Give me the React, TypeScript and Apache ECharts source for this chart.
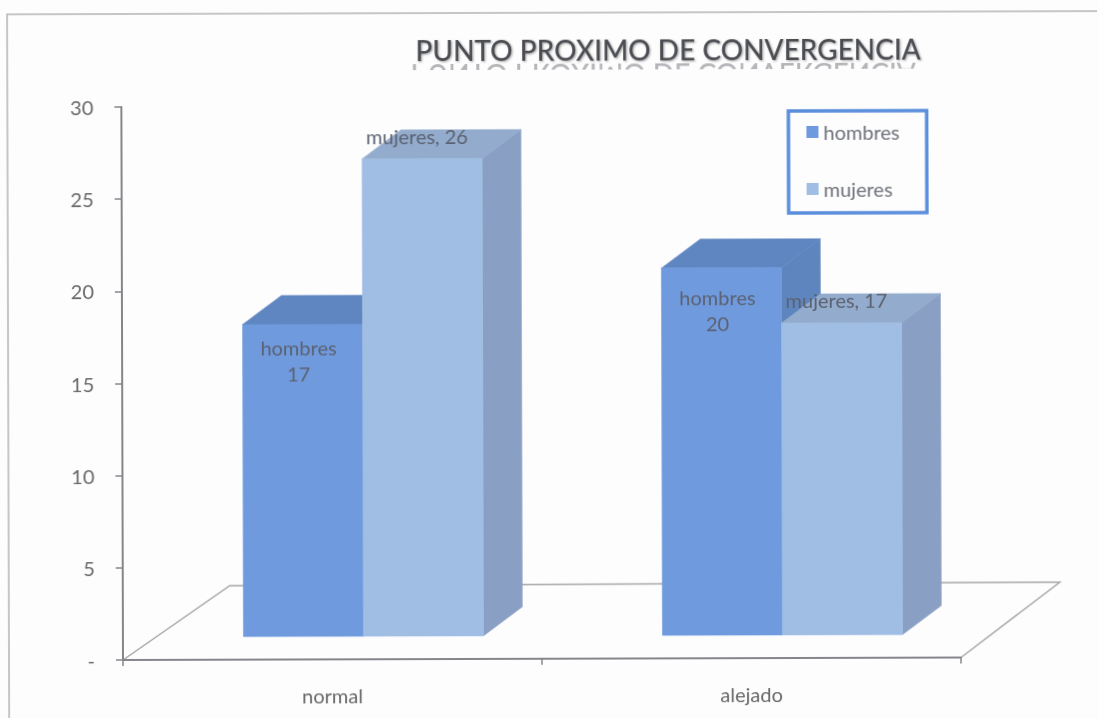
import React, { useEffect, useRef } from "react";
import * as echarts from "echarts";

const chartTitle = "PUNTO PROXIMO DE CONVERGENCIA";
const categories = ["normal", "alejado"];
const hombresValues = [17, 20];
const mujeresValues = [26, 17];
const yMin = 0;
const yMax = 30;
const yInterval = 5;

const BG = "#fdfdfe";
const FONT = "Lato, 'Open Sans', sans-serif";
const TEXT = "#686868";
const BAR_W = 120;
const CENTER_SHIFT = 31;
const DX = 39;
const DY = 29;
const LIFT = 23; // the floor of the 3D box sits above the axis line
const HEIGHT_K = 0.996;

function bar3d(
  seriesKey: "h" | "m",
  colors: { front: string; top: string; side: string },
) {
  return (params: any, api: any) => {
    const idx = api.value(0);
    const val = api.value(1);
    const base = api.coord([idx, 0]);
    const top = api.coord([idx, val]);
    const x0 = base[0] + CENTER_SHIFT + (seriesKey === "h" ? -BAR_W : 0);
    const x1 = x0 + BAR_W;
    const yb = base[1] - LIFT;
    const yt = yb - (base[1] - top[1]) * HEIGHT_K;
    const face = (points: number[][], fill: string) => ({
      type: "polygon",
      shape: { points },
      style: { fill, stroke: fill, lineWidth: 0.5 },
    });
    const label =
      seriesKey === "h"
        ? {
            type: "text",
            x: (x0 + x1) / 2 - 4,
            y: yt + (idx === 0 ? 36 : 42),
            z2: 5,
            style: {
              text: "hombres\n" + val,
              fill: "#5b6270",
              font: `20px ${FONT}`,
              lineHeight: 26,
              textAlign: "center",
              textVerticalAlign: "middle",
            },
          }
        : {
            type: "text",
            x: (x0 + x1) / 2 - 5,
            y: yt - 23,
            z2: 5,
            style: {
              text: "mujeres, " + val,
              fill: "#5b6270",
              font: `20px ${FONT}`,
              textAlign: "center",
              textVerticalAlign: "middle",
            },
          };
    return {
      type: "group",
      children: [
        face(
          [
            [x1, yt],
            [x1 + DX, yt - DY],
            [x1 + DX, yb - DY],
            [x1, yb],
          ],
          colors.side,
        ),
        face(
          [
            [x0, yt],
            [x0 + DX, yt - DY],
            [x1 + DX, yt - DY],
            [x1, yt],
          ],
          colors.top,
        ),
        face(
          [
            [x0, yt],
            [x1, yt],
            [x1, yb],
            [x0, yb],
          ],
          colors.front,
        ),
        label,
      ],
    };
  };
}

export default function App() {
  const ref = useRef<HTMLDivElement>(null);
  useEffect(() => {
    const chart = echarts.init(ref.current!, undefined, { renderer: "svg" });
    chart.setOption({
      animation: false,
      backgroundColor: BG,
      title: {
        text: chartTitle,
        left: 665,
        top: 32,
        textAlign: "center",
        textStyle: {
          fontFamily: FONT,
          fontSize: 28,
          fontWeight: 500,
          color: "#4b4d52",
          textShadowColor: "rgba(90,90,90,0.55)",
          textShadowBlur: 2,
          textShadowOffsetX: 1,
          textShadowOffsetY: 1,
        },
      },
      legend: {
        orient: "vertical",
        left: 790,
        top: 113,
        padding: [11, 27, 14, 18],
        itemGap: 37,
        itemWidth: 12,
        itemHeight: 12,
        borderColor: "#5b8edb",
        borderWidth: 3.5,
        data: [
          { name: "hombres", icon: "rect" },
          { name: "mujeres", icon: "rect" },
        ],
        textStyle: { fontFamily: FONT, fontSize: 20, color: "#6d7078" },
      },
      grid: { left: 123, right: 138, top: 107, bottom: 58 },
      xAxis: {
        type: "category",
        data: categories,
        boundaryGap: true,
        axisLine: { lineStyle: { color: "#85868a", width: 2 } },
        axisTick: { show: true, length: 6, lineStyle: { color: "#85868a", width: 1.5 } },
        axisLabel: { margin: 26, fontFamily: FONT, fontSize: 20, color: TEXT },
      },
      yAxis: {
        type: "value",
        min: yMin,
        max: yMax,
        interval: yInterval,
        splitLine: { show: false },
        axisLine: { show: true, lineStyle: { color: "#85868a", width: 2 } },
        axisTick: { show: true, length: 7, lineStyle: { color: "#85868a", width: 1.5 } },
        axisLabel: {
          margin: 28,
          fontFamily: FONT,
          fontSize: 20,
          color: TEXT,
          formatter: (v: number) => (v === 0 ? "-" : String(v)),
        },
      },
      graphic: {
        elements: [
          {
            type: "polyline",
            z: 0,
            shape: { points: [[9, 718], [9, 14], [1099, 14]] },
            style: { stroke: "#b4b4b6", lineWidth: 1.5, fill: "none" },
          },
          {
            type: "polyline",
            z: 0,
            shape: { points: [[123, 660], [230, 586], [1060, 585], [961, 660]] },
            style: { stroke: "#a8a6a8", lineWidth: 1.5, fill: "none" },
          },
          {
            type: "text",
            z: 0,
            x: 665,
            y: 62,
            scaleY: -1,
            style: {
              text: chartTitle,
              font: `500 28px ${FONT}`,
              fill: "rgba(110,110,115,0.5)",
              textAlign: "center",
              textVerticalAlign: "bottom",
            },
          },
          {
            type: "rect",
            z: 1,
            shape: { x: 400, y: 71, width: 540, height: 26 },
            style: { fill: BG },
          },
        ],
      },
      series: [
        {
          name: "hombres",
          type: "custom",
          z: 3,
          itemStyle: { color: "#6f9ade" },
          renderItem: bar3d("h", { front: "#6f9ade", top: "#5f86c0", side: "#5e85bd" }),
          encode: { x: 0, y: 1 },
          data: categories.map((_, i) => [i, hombresValues[i]]),
        },
        {
          name: "mujeres",
          type: "custom",
          z: 4,
          itemStyle: { color: "#a0bee4" },
          renderItem: bar3d("m", { front: "#a0bee4", top: "#93abcd", side: "#8a9fc4" }),
          encode: { x: 0, y: 1 },
          data: categories.map((_, i) => [i, mujeresValues[i]]),
        },
      ],
    });
    return () => chart.dispose();
  }, []);
  return (
    <div style={{ position: "fixed", left: 0, top: 0, width: 1099, height: 718, background: BG, overflow: "hidden" }}>
      <div
        ref={ref}
        style={{
          width: 1099,
          height: 718,
          transform: "rotate(-0.17deg)",
          transformOrigin: "123px 660px",
          filter: "blur(0.6px)",
        }}
      />
    </div>
  );
}
